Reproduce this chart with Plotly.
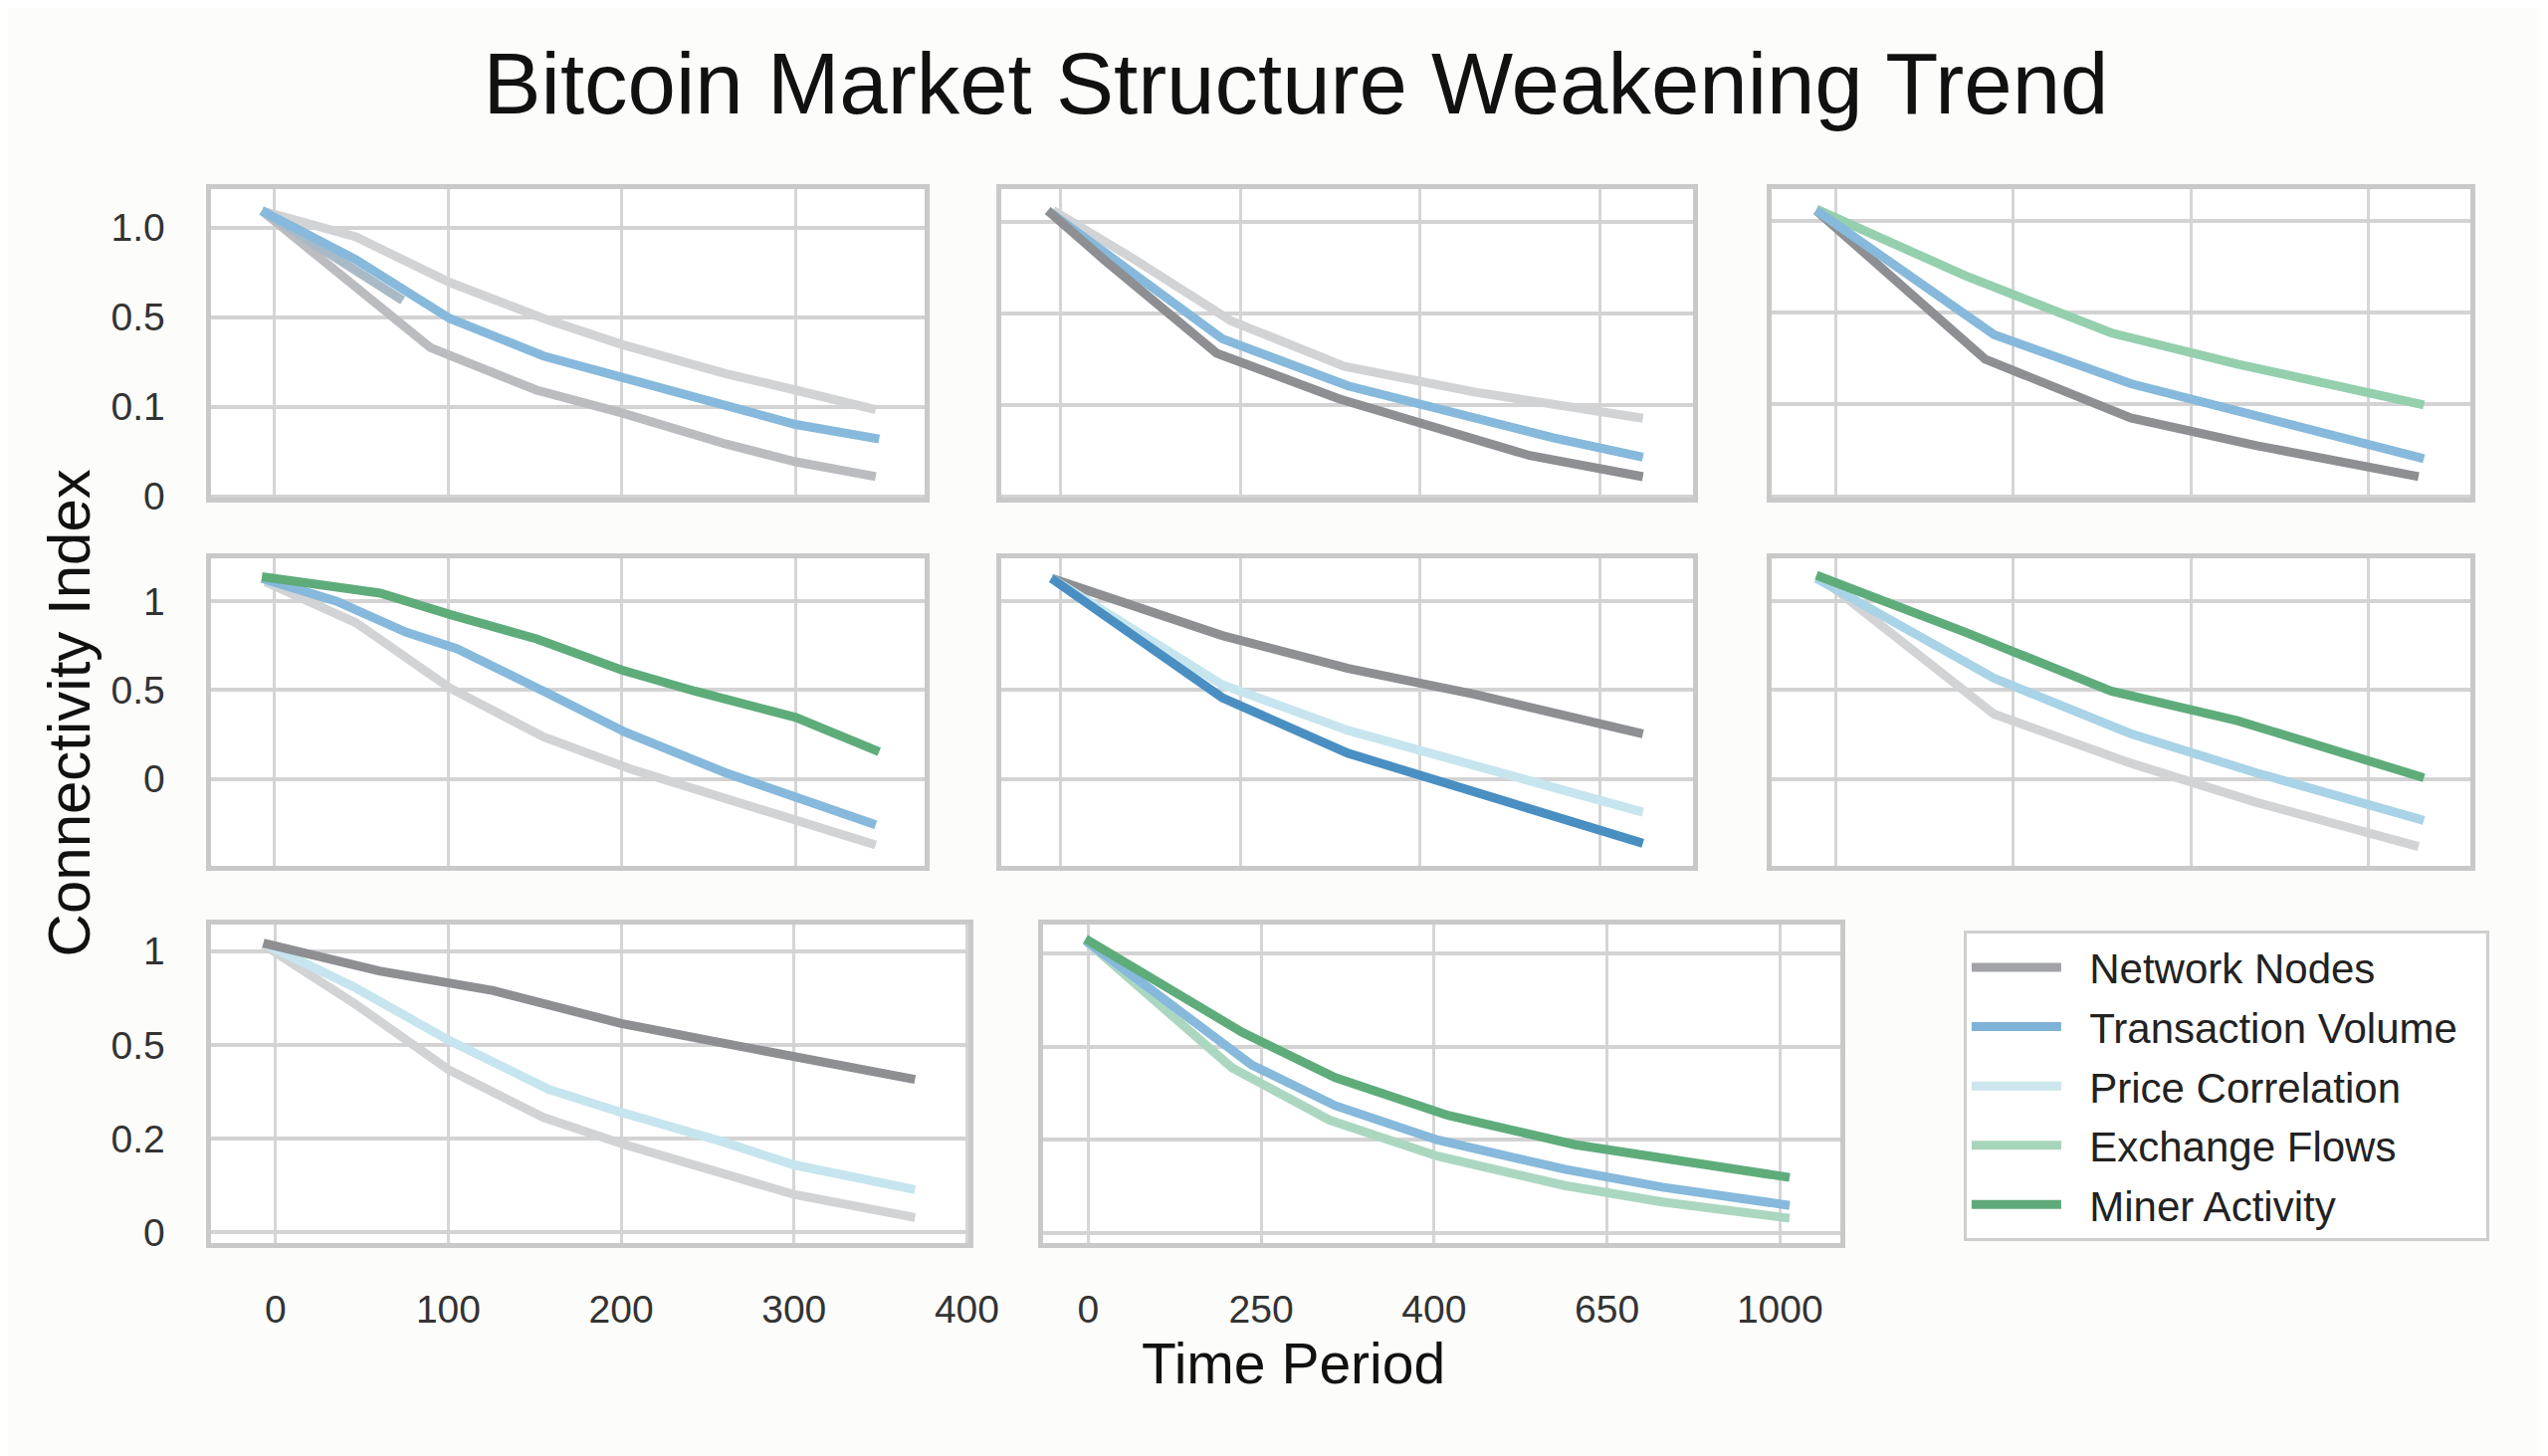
import plotly.graph_objects as go

# ---- values ----
# row 1 / col 1
a_light_x = [-7, 47, 101, 155, 200, 260, 300, 346]
a_light_y = [1.063, 0.966, 0.796, 0.662, 0.565, 0.456, 0.395, 0.322]
a_nodes_x = [-7, 40, 90, 151, 200, 260, 300, 346]
a_nodes_y = [1.063, 0.820, 0.553, 0.395, 0.310, 0.194, 0.128, 0.073]
a_stub_x = [-7, 74]
a_stub_y = [1.063, 0.729]
a_volume_x = [-7, 47, 101, 155, 200, 260, 300, 348]
a_volume_y = [1.063, 0.881, 0.662, 0.522, 0.443, 0.334, 0.267, 0.213]

# row 1 / col 2
b_light_x = [-4, 41, 95, 158, 231, 324]
b_light_y = [1.041, 0.864, 0.639, 0.473, 0.379, 0.284]
b_nodes_x = [-7, 24, 87, 155, 261, 324]
b_nodes_y = [1.041, 0.864, 0.521, 0.355, 0.148, 0.071]
b_volume_x = [-7, 30, 90, 160, 274, 324]
b_volume_y = [1.041, 0.864, 0.574, 0.402, 0.213, 0.142]

# row 1 / col 3
c_flows_x = [-11, 73, 155, 226, 331]
c_flows_y = [1.041, 0.799, 0.592, 0.479, 0.331]
c_volume_x = [-11, 89, 166, 237, 331]
c_volume_y = [1.036, 0.586, 0.408, 0.290, 0.136]
c_nodes_x = [-11, 84, 166, 237, 328]
c_nodes_y = [1.036, 0.497, 0.284, 0.183, 0.071]

# row 2 / col 1
d_light_x = [-5, 47, 101, 155, 206, 260, 300, 346]
d_light_y = [1.11, 0.880, 0.512, 0.236, 0.052, -0.114, -0.225, -0.372]
d_volume_x = [-7, 36, 76, 105, 155, 202, 260, 346]
d_volume_y = [1.129, 1.0, 0.825, 0.733, 0.494, 0.263, 0.033, -0.258]
d_miner_x = [-7, 61, 101, 151, 200, 242, 300, 348]
d_miner_y = [1.138, 1.046, 0.926, 0.788, 0.613, 0.494, 0.346, 0.153]

# row 2 / col 2
e_x = [-5, 90, 160, 231, 324]
e_nodes_y = [1.129, 0.807, 0.622, 0.475, 0.254]
e_price_y = [1.129, 0.530, 0.273, 0.070, -0.188]
e_volume_y = [1.129, 0.457, 0.144, -0.077, -0.363]

# row 2 / col 3
f_light_x = [-7, 89, 166, 237, 328]
f_light_y = [1.120, 0.365, 0.088, -0.133, -0.381]
f_price_x = [-11, 89, 166, 237, 331]
f_price_y = [1.129, 0.567, 0.254, 0.033, -0.234]
f_miner_x = [-11, 73, 155, 226, 331]
f_miner_y = [1.147, 0.825, 0.494, 0.328, 0.006]

# row 3 / col 1
g_nodes_x = [-7, 60, 126, 158, 200, 259, 300, 370]
g_nodes_y = [1.029, 0.930, 0.860, 0.807, 0.743, 0.673, 0.626, 0.544]
g_light_x = [-7, 46, 100, 155, 200, 259, 300, 370]
g_light_y = [1.023, 0.813, 0.579, 0.409, 0.316, 0.205, 0.135, 0.053]
g_price_x = [-7, 46, 100, 158, 200, 259, 300, 370]
g_price_y = [1.029, 0.871, 0.684, 0.509, 0.427, 0.322, 0.240, 0.152]

# row 3 / col 2
h_flows_x = [-4, 208, 349, 505, 689, 830, 1014]
h_flows_y = [1.047, 0.591, 0.404, 0.275, 0.170, 0.111, 0.053]
h_volume_x = [-4, 236, 357, 505, 689, 830, 1014]
h_volume_y = [1.047, 0.602, 0.456, 0.333, 0.228, 0.164, 0.099]
h_miner_x = [-4, 222, 357, 520, 704, 1014]
h_miner_y = [1.053, 0.719, 0.556, 0.421, 0.316, 0.199]

# tick labels
row1_ytext = ["0", "0.1", "0.5", "1.0"]
row2_ytext = ["0", "0.5", "1"]
row3_ytext = ["0", "0.2", "0.5", "1"]
left_xtext = ["0", "100", "200", "300", "400"]
mid_xtext = ["0", "250", "400", "650", "1000"]

series_names = ["Network Nodes", "Transaction Volume", "Price Correlation",
                "Exchange Flows", "Miner Activity"]

# ---- styling ----
FONT = "Liberation Sans, Arial, sans-serif"
colors = {
    "nodes": "#8d8f93",
    "nodes_mid": "#babcbf",
    "light": "#d2d3d5",
    "stub": "#a9bac6",
    "volume": "#86b9db",
    "volume_dark": "#4a8fc2",
    "price": "#c6e5ee",
    "price_mid": "#a9d3e6",
    "flows": "#94cfae",
    "flows_light": "#abd7c0",
    "miner": "#5fac7b",
}
legend_colors = ["#a2a3a6", "#7fb2d7", "#cce6ed", "#a7d5bb", "#5fa97a"]

# panel -> list of (x, y, color key, name)
panels = {
    1: [(a_light_x, a_light_y, "light", "Price Correlation"),
        (a_nodes_x, a_nodes_y, "nodes_mid", "Network Nodes"),
        (a_stub_x, a_stub_y, "stub", "Network Nodes"),
        (a_volume_x, a_volume_y, "volume", "Transaction Volume")],
    2: [(b_light_x, b_light_y, "light", "Price Correlation"),
        (b_volume_x, b_volume_y, "volume", "Transaction Volume"),
        (b_nodes_x, b_nodes_y, "nodes", "Network Nodes")],
    3: [(c_flows_x, c_flows_y, "flows", "Exchange Flows"),
        (c_nodes_x, c_nodes_y, "nodes", "Network Nodes"),
        (c_volume_x, c_volume_y, "volume", "Transaction Volume")],
    4: [(d_light_x, d_light_y, "light", "Price Correlation"),
        (d_volume_x, d_volume_y, "volume", "Transaction Volume"),
        (d_miner_x, d_miner_y, "miner", "Miner Activity")],
    5: [(e_x, e_nodes_y, "nodes", "Network Nodes"),
        (e_x, e_price_y, "price", "Price Correlation"),
        (e_x, e_volume_y, "volume_dark", "Transaction Volume")],
    6: [(f_light_x, f_light_y, "light", "Network Nodes"),
        (f_price_x, f_price_y, "price_mid", "Price Correlation"),
        (f_miner_x, f_miner_y, "miner", "Miner Activity")],
    7: [(g_light_x, g_light_y, "light", "Network Nodes"),
        (g_price_x, g_price_y, "price", "Price Correlation"),
        (g_nodes_x, g_nodes_y, "nodes", "Network Nodes")],
    8: [(h_flows_x, h_flows_y, "flows_light", "Exchange Flows"),
        (h_volume_x, h_volume_y, "volume", "Transaction Volume"),
        (h_miner_x, h_miner_y, "miner", "Miner Activity")],
}

# page pixels -> paper fractions (small allowance for the page margin)
W, H = 2560, 1463
OFF = 4


def px(x):
    return (x - OFF) / W


def py(y):
    return 1 - (y - OFF) / H


# panel placement in page pixels (x span, y span) and axis ranges
layout_boxes = {
    1: ((211, 936), (189, 503), (-36, 374), (-0.006, 1.142)),
    2: ((1014, 1718), (189, 503), (-33, 352), (-0.006, 1.118)),
    3: ((1798, 2508), (189, 503), (-36, 357), (-0.006, 1.112)),
    4: ((211, 936), (565, 878), (-36, 374), (-0.49, 1.24)),
    5: ((1014, 1718), (565, 878), (-33, 352), (-0.49, 1.24)),
    6: ((1798, 2508), (565, 878), (-36, 357), (-0.49, 1.24)),
    7: ((211, 981), (938, 1262), (-37, 401), (-0.037, 1.094)),
    8: ((1057, 1868), (938, 1262), (-65, 1088), (-0.035, 1.103)),
}

fig = go.Figure()

for i, lines in panels.items():
    suffix = "" if i == 1 else str(i)
    for x, y, ckey, name in lines:
        fig.add_trace(go.Scatter(
            x=x, y=y, mode="lines", name=name, showlegend=False,
            line=dict(color=colors[ckey], width=9),
            xaxis="x" + suffix, yaxis="y" + suffix,
        ))

# legend entries (non-breaking spaces pad the gap after the line sample)
for name, col in zip(series_names, legend_colors):
    fig.add_trace(go.Scatter(
        x=[None], y=[None], mode="lines",
        name="\u00a0\u00a0" + name + "\u00a0\u00a0",
        legendgroup=name, line=dict(color=col, width=9),
        xaxis="x8", yaxis="y8",
    ))

tick_font = dict(family=FONT, size=39, color="#333333")
axes = {}
for i, ((x0, x1), (y0, y1), xr, yr) in layout_boxes.items():
    suffix = "" if i == 1 else str(i)
    row = 1 if i <= 3 else (2 if i <= 6 else 3)
    first_col = i in (1, 4, 7)

    if row == 1:
        yvals, ytext = [0, 1 / 3, 2 / 3, 1], row1_ytext
    elif row == 2:
        yvals, ytext = [0, 0.5, 1], row2_ytext
    else:
        yvals, ytext = [0, 1 / 3, 2 / 3, 1], row3_ytext

    if i == 8:
        xvals, xtext = [0, 250, 500, 750, 1000], mid_xtext
    else:
        xvals, xtext = [0, 100, 200, 300, 400], left_xtext

    axes["xaxis" + suffix] = dict(
        domain=[px(x0), px(x1)], range=list(xr), anchor="y" + suffix,
        tickvals=xvals, ticktext=xtext, showticklabels=(row == 3),
        tickfont=tick_font, ticks="", ticklabelstandoff=28,
        showgrid=True, gridcolor="#d5d5d5", gridwidth=3,
        showline=True, mirror=True, linecolor="#c9c9c9", linewidth=5,
        zeroline=False, fixedrange=True,
    )
    axes["yaxis" + suffix] = dict(
        domain=[py(y1), py(y0)], range=list(yr), anchor="x" + suffix,
        tickvals=yvals, ticktext=ytext, showticklabels=first_col,
        tickfont=tick_font, ticks="", ticklabelstandoff=34,
        showgrid=True, gridcolor="#d3d3d3", gridwidth=4,
        showline=True, mirror=True, linecolor="#c9c9c9", linewidth=5,
        zeroline=False, fixedrange=True,
    )

fig.update_layout(
    **axes,
    width=W, height=H,
    margin=dict(l=0, r=0, t=0, b=0),
    paper_bgcolor="#fcfcfb",
    plot_bgcolor="#ffffff",
    font=dict(family=FONT, color="#111111"),
    title=dict(text="Bitcoin Market Structure Weakening Trend",
               x=px(1298), y=py(80), xanchor="center", yanchor="middle",
               font=dict(family=FONT, size=87, color="#111111")),
    legend=dict(x=px(1993), y=py(944), xanchor="left", yanchor="top",
                bgcolor="#ffffff", bordercolor="#cfcfcf", borderwidth=3,
                font=dict(family=FONT, size=42, color="#222222"),
                itemwidth=90, tracegroupgap=2),
    annotations=[
        dict(text="Connectivity Index", x=px(66), y=py(722),
             xref="paper", yref="paper", textangle=-90, showarrow=False,
             xanchor="center", yanchor="middle",
             font=dict(family=FONT, size=60, color="#111111")),
        dict(text="Time Period", x=px(1311), y=py(1385),
             xref="paper", yref="paper", showarrow=False,
             xanchor="center", yanchor="middle",
             font=dict(family=FONT, size=57, color="#111111")),
    ],
)

fig.write_html("out.html")
